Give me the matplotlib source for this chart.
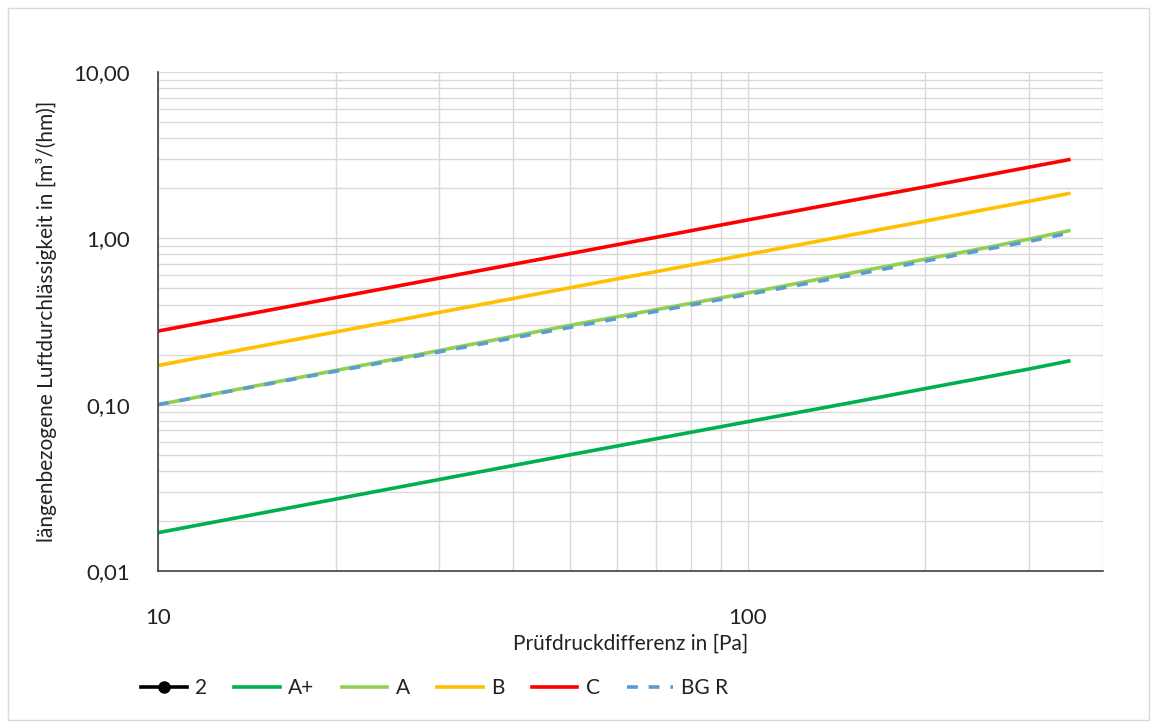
import matplotlib.pyplot as plt
from matplotlib.lines import Line2D
from matplotlib.patches import Rectangle
from matplotlib.ticker import FixedLocator, FixedFormatter, NullFormatter

plt.rcParams['font.family'] = ['Lato', 'DejaVu Sans']

# Prüfdruck in Pa
druck = [10, 50, 100, 150, 200, 250, 300, 350]

# längenbezogene Luftdurchlässigkeit in m³/(hm)
klasse_a_plus = [0.017, 0.050, 0.079, 0.103, 0.125, 0.145, 0.164, 0.183]
klasse_a = [0.100, 0.300, 0.470, 0.620, 0.750, 0.870, 0.990, 1.110]
klasse_b = [0.172, 0.505, 0.800, 1.050, 1.270, 1.480, 1.670, 1.860]
klasse_c = [0.277, 0.810, 1.290, 1.690, 2.040, 2.370, 2.680, 2.970]
bg_r = [0.100, 0.292, 0.460, 0.600, 0.730, 0.850, 0.960, 1.075]

y_ticks = [0.01, 0.1, 1, 10]
y_labels = ["0,01", "0,10", "1,00", "10,00"]
x_ticks = [10, 100]
x_labels = ["10", "100"]

fig = plt.figure(figsize=(11.57, 7.27), dpi=100)
ax = fig.add_axes([158 / 1157, 1 - 571 / 727, (1103 - 158) / 1157, (571 - 72) / 727])

# Rahmen um das Diagramm
fig.patches.append(Rectangle((8 / 1157, 7 / 727), 1141 / 1157, 712 / 727,
                             transform=fig.transFigure, fill=False,
                             edgecolor="#d9d9d9", linewidth=1))

ax.plot(druck, klasse_a_plus, color="#00b050", lw=2.6, label="A+")
ax.plot(druck, klasse_a, color="#92d050", lw=2.6, label="A")
ax.plot(druck, klasse_b, color="#ffc000", lw=2.6, label="B")
ax.plot(druck, klasse_c, color="#ff0000", lw=2.6, label="C")
ax.plot(druck, bg_r, color="#5b9bd5", lw=2.6, ls=(0, (3, 3)), label="BG R")

ax.set_xscale("log")
ax.set_yscale("log")
ax.set_xlim(10, 400)
ax.set_ylim(0.01, 10)

ax.xaxis.set_major_locator(FixedLocator(x_ticks))
ax.xaxis.set_major_formatter(FixedFormatter(x_labels))
ax.xaxis.set_minor_formatter(NullFormatter())
ax.yaxis.set_major_locator(FixedLocator(y_ticks))
ax.yaxis.set_major_formatter(FixedFormatter(y_labels))
ax.yaxis.set_minor_formatter(NullFormatter())

ax.grid(True, which="both", color="#d9d9d9", lw=1)
ax.set_axisbelow(True)
ax.tick_params(which="both", length=0, labelsize=16, colors="#222222")
ax.tick_params(axis="x", pad=27)
ax.tick_params(axis="y", pad=20)

for side in ["top", "right"]:
    ax.spines[side].set_visible(False)
for side in ["left", "bottom"]:
    ax.spines[side].set_color("#404040")
    ax.spines[side].set_linewidth(1.2)

ax.set_xlabel("Prüfdruckdifferenz in [Pa]", fontsize=15, color="#222222", labelpad=4)
ax.set_ylabel("längenbezogene Luftdurchlässigkeit in [m³/(hm)]", fontsize=15,
              color="#222222", labelpad=12)

handles = [Line2D([], [], color="black", lw=2.6, marker="o", markersize=8)]
handles += ax.get_lines()
labels = ["2", "A+", "A", "B", "C", "BG R"]
fig.legend(handles, labels, loc="center left", bbox_to_anchor=(122 / 1157, 1 - 688 / 727),
           ncol=6, frameon=False, fontsize=15, handlelength=2.2, handletextpad=0.4,
           columnspacing=1.3, labelcolor="#222222")

fig.savefig("out.png", dpi=100)
